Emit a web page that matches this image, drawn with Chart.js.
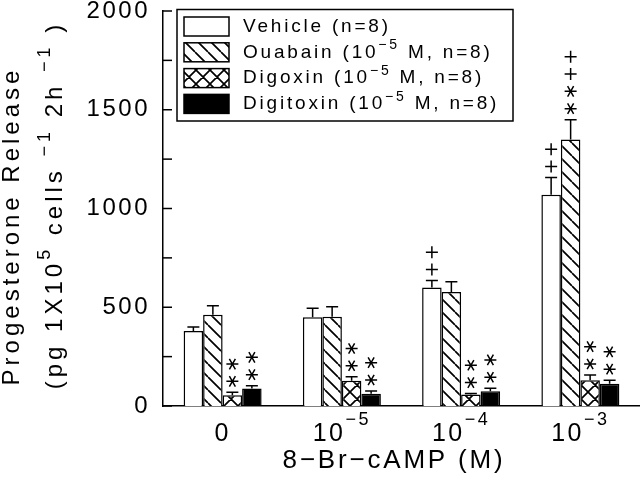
<!DOCTYPE html>
<html>
<head>
<meta charset="utf-8">
<script src="https://cdn.jsdelivr.net/npm/chart.js@4.4.1/dist/chart.umd.min.js"></script>
<style>
  html, body { margin: 0; padding: 0; background: #fff; }
  canvas { display: block; }
</style>
</head>
<body>
<canvas id="chart" width="640" height="479"></canvas>
<script>
// 8-Br-cAMP doses: base + exponent
const doseBase = ['0', '10', '10', '10'];
const doseExp = ['', '−5', '−4', '−3'];

const seriesNames = ['Vehicle', 'Ouabain', 'Digoxin', 'Digitoxin'];
const drugConc = ['', '−5', '−5', '−5'];
const nPerGroup = [8, 8, 8, 8];

// progesterone release (pg / 1x10^5 cells / 2h)
const vehicle = [380, 450, 600, 1070];
const ouabain = [462, 452, 577, 1350];
const digoxin = [55, 128, 58, 130];
const digitoxin = [88, 62, 75, 113];

// SEM (drawn upward only)
const vehicleErr = [20, 45, 35, 87];
const ouabainErr = [45, 50, 52, 100];
const digoxinErr = [14, 20, 5, 27];
const digitoxinErr = [15, 14, 15, 18];

// significance marks above each bar, bottom to top
const vehicleMarks = ['', '', '++', '++'];
const ouabainMarks = ['', '', '', '**++'];
const digoxinMarks = ['**', '**', '**', '**'];
const digitoxinMarks = ['**', '**', '**', '**'];

const FONT = '"Liberation Sans", Arial, sans-serif';

// hatch patterns
function makePattern(kind) {
  const s = kind === 'cross' ? 14 : 13;
  const c = document.createElement('canvas');
  c.width = s; c.height = s;
  const g = c.getContext('2d');
  g.fillStyle = '#fff';
  g.fillRect(0, 0, s, s);
  g.strokeStyle = '#000';
  g.lineWidth = 1.7;
  g.beginPath();
  for (let k = -1; k <= 1; k++) {
    g.moveTo(k * s, 0); g.lineTo(k * s + s, s);           // "\"
    if (kind === 'cross') { g.moveTo(k * s, s); g.lineTo(k * s + s, 0); } // "/"
  }
  g.stroke();
  return g.createPattern(c, 'repeat');
}
const fills = ['#fff', makePattern('diag'), makePattern('cross'), '#000'];

const values = [vehicle, ouabain, digoxin, digitoxin];
const errs = [vehicleErr, ouabainErr, digoxinErr, digitoxinErr];
const marks = [vehicleMarks, ouabainMarks, digoxinMarks, digitoxinMarks];

// draw text pieces [text, isSup] starting at x
function drawParts(ctx, parts, x, y, size, supSize, rise) {
  parts.forEach(([t, sup]) => {
    ctx.font = (sup ? supSize : size) + 'px ' + FONT;
    ctx.fillText(t, x, sup ? y - rise : y);
    x += ctx.measureText(t).width;
  });
  return x;
}
function partsWidth(ctx, parts, size, supSize) {
  let w = 0;
  parts.forEach(([t, sup]) => {
    ctx.font = (sup ? supSize : size) + 'px ' + FONT;
    w += ctx.measureText(t).width;
  });
  return w;
}

function drawAsterisk(ctx, x, y) {
  const r = 6;
  ctx.beginPath();
  ctx.moveTo(x - r, y); ctx.lineTo(x + r, y);
  for (const a of [Math.PI / 3, -Math.PI / 3]) {
    ctx.moveTo(x - r * Math.cos(a), y - r * Math.sin(a));
    ctx.lineTo(x + r * Math.cos(a), y + r * Math.sin(a));
  }
  ctx.stroke();
}
function drawPlus(ctx, x, y) {
  const r = 6;
  ctx.beginPath();
  ctx.moveTo(x - r, y); ctx.lineTo(x + r, y);
  ctx.moveTo(x, y - r); ctx.lineTo(x, y + r);
  ctx.stroke();
}

const extras = {
  id: 'extras',
  beforeDraw(chart) {
    chart.ctx.letterSpacing = '2.5px';
  },
  afterDatasetsDraw(chart) {
    const ctx = chart.ctx;
    const ys = chart.scales.y;
    ctx.save();
    ctx.strokeStyle = '#000';
    ctx.lineWidth = 1.5;
    chart.data.datasets.forEach((ds, di) => {
      chart.getDatasetMeta(di).data.forEach((bar, i) => {
        const top = ys.getPixelForValue(values[di][i] + errs[di][i]);
        // error bar
        ctx.beginPath();
        ctx.moveTo(bar.x, bar.y);
        ctx.lineTo(bar.x, top);
        ctx.moveTo(bar.x - 6, top);
        ctx.lineTo(bar.x + 6, top);
        ctx.stroke();
        // marks
        marks[di][i].split('').forEach((m, k) => {
          const cy = top - 11 - k * 17.3;
          if (m === '*') drawAsterisk(ctx, bar.x, cy);
          else drawPlus(ctx, bar.x, cy);
        });
      });
    });
    // inward y ticks
    ys.ticks.forEach(t => {
      const py = ys.getPixelForValue(t.value);
      ctx.beginPath();
      ctx.moveTo(ys.right, py);
      ctx.lineTo(ys.right + 9, py);
      ctx.stroke();
    });
    ctx.restore();
  },
  afterDraw(chart) {
    const ctx = chart.ctx;
    const xs = chart.scales.x;
    ctx.save();
    ctx.fillStyle = '#000';
    ctx.strokeStyle = '#000';

    // x tick labels
    ctx.letterSpacing = '2.5px';
    ctx.textBaseline = 'middle';
    ctx.textAlign = 'left';
    doseBase.forEach((b, i) => {
      const parts = [[b, false]];
      if (doseExp[i]) parts.push([doseExp[i], true]);
      const w = partsWidth(ctx, parts, 25, 18);
      const cx = xs.getPixelForValue(i);
      drawParts(ctx, parts, cx - w / 2, 434, 25, 18, 14);
    });

    // x title
    ctx.letterSpacing = '2.8px';
    ctx.font = '26px ' + FONT;
    ctx.textAlign = 'center';
    ctx.fillText('8−Br−cAMP (M)', 394, 461);

    // y title
    ctx.save();
    ctx.translate(12, 226);
    ctx.rotate(-Math.PI / 2);
    ctx.letterSpacing = '4px';
    ctx.font = '24px ' + FONT;
    ctx.textAlign = 'center';
    ctx.fillText('Progesterone Release', 0, 0);
    ctx.restore();

    ctx.save();
    ctx.translate(55, 205);
    ctx.rotate(-Math.PI / 2);
    ctx.letterSpacing = '4px';
    ctx.textAlign = 'left';
    const yParts = [['(pg 1X10', false], ['5', true], [' cells ', false], ['−1', true],
                    [' 2h ', false], ['−1', true], [' )', false]];
    const yw = partsWidth(ctx, yParts, 24, 18);
    drawParts(ctx, yParts, -yw / 2, 0, 24, 18, 10);
    ctx.restore();

    // legend
    ctx.lineWidth = 1.5;
    ctx.strokeRect(177, 9.5, 336, 111.5);
    ctx.letterSpacing = '2.8px';
    ctx.textAlign = 'left';
    seriesNames.forEach((name, i) => {
      const cy = 26.5 + i * 25.8;
      ctx.fillStyle = fills[i];
      ctx.fillRect(184, cy - 9.5, 45, 19);
      ctx.strokeRect(184, cy - 9.5, 45, 19);
      ctx.fillStyle = '#000';
      const parts = drugConc[i]
        ? [[name + ' (10', false], [drugConc[i], true], [' M, n=' + nPerGroup[i] + ')', false]]
        : [[name + ' (n=' + nPerGroup[i] + ')', false]];
      drawParts(ctx, parts, 243, cy, 19, 14, 7);
    });
    ctx.restore();
  }
};

new Chart(document.getElementById('chart'), {
  type: 'bar',
  data: {
    labels: doseBase.map((b, i) => b + doseExp[i]),
    datasets: seriesNames.map((name, i) => ({
      label: name,
      data: values[i],
      backgroundColor: fills[i],
      borderColor: '#000',
      borderWidth: 1.5,
      categoryPercentage: 0.654,
      barPercentage: 1.0
    }))
  },
  options: {
    responsive: false,
    animation: false,
    layout: { padding: { top: 11, right: 0, left: 0, bottom: 0 } },
    plugins: { legend: { display: false }, tooltip: { enabled: false } },
    scales: {
      x: {
        grid: { display: false, drawTicks: false },
        border: { display: true, color: '#000', width: 1.5 },
        ticks: { display: false },
        afterFit: s => { s.height = 73; s.paddingLeft = 0; s.paddingRight = 0; }
      },
      y: {
        min: 0,
        max: 2000,
        grid: { display: false, drawTicks: false },
        border: { display: true, color: '#000', width: 1.5 },
        ticks: {
          stepSize: 250,
          padding: 13,
          color: '#000',
          font: { family: FONT, size: 24 },
          callback: v => (v % 500 === 0 ? v : '')
        },
        afterFit: s => { s.width = 163; s.paddingTop = 0; s.paddingBottom = 0; }
      }
    }
  },
  plugins: [extras]
});
</script>
</body>
</html>
